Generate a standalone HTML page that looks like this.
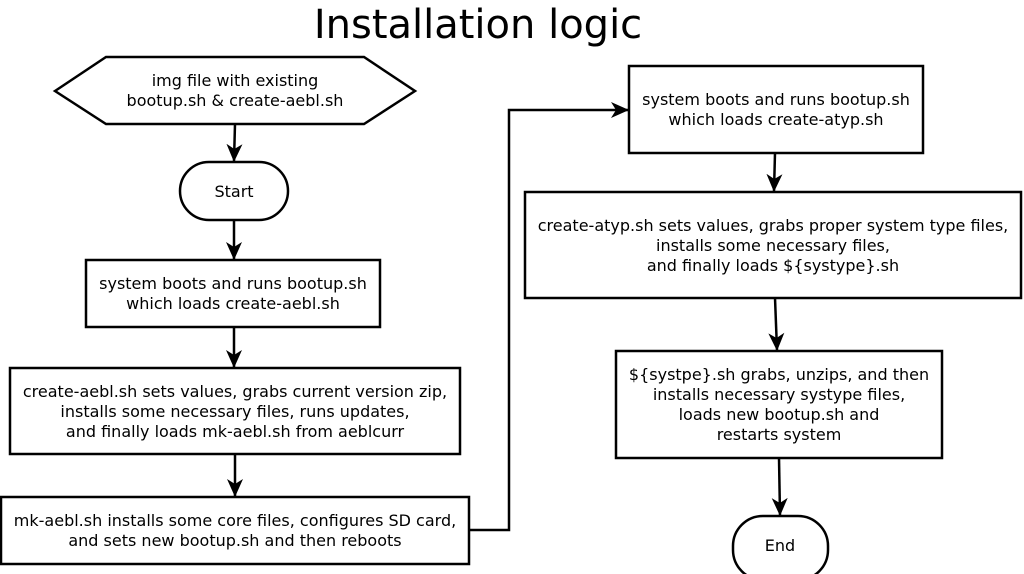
<!DOCTYPE html>
<html><head><meta charset="utf-8"><style>
html,body{margin:0;padding:0;background:#fff;width:1024px;height:574px;overflow:hidden}
svg text{font-family:"DejaVu Sans","Liberation Sans",sans-serif;font-size:16px;fill:#000;text-anchor:middle}
</style></head><body>
<svg width="1024" height="574" viewBox="0 0 1024 574" xmlns="http://www.w3.org/2000/svg">
<defs>
<marker id="b" markerWidth="18" markerHeight="18" refX="17" refY="9" orient="auto" markerUnits="userSpaceOnUse"><path d="M0,1 L18,9 L0,17 L5,9 z" fill="#000"/></marker></defs>
<text x="478" y="38" style="font-size:40px">Installation logic</text>
<g fill="#fff" stroke="#000" stroke-width="2.5">
<polygon points="55,91 106,57 364,57 415,91 364,124 106,124"/>
<rect x="180" y="162" width="108" height="58" rx="29"/>
<rect x="86" y="260" width="294" height="67"/>
<rect x="10" y="368" width="450" height="86"/>
<rect x="1" y="497" width="468" height="67"/>
<rect x="629" y="66" width="294" height="87"/>
<rect x="525" y="192" width="496" height="106"/>
<rect x="616" y="351" width="326" height="107"/>
<rect x="733" y="516" width="95" height="64" rx="30"/>
</g>
<g stroke="#000" stroke-width="2.5" fill="none">
<line x1="235" y1="124" x2="234" y2="161" marker-end="url(#b)"/>
<line x1="234" y1="220" x2="234" y2="259" marker-end="url(#b)"/>
<line x1="234" y1="327" x2="234" y2="367" marker-end="url(#b)"/>
<line x1="235" y1="454" x2="235" y2="496" marker-end="url(#b)"/>
<polyline points="469,530 509,530 509,110 628,110" marker-end="url(#b)"/>
<line x1="775" y1="153" x2="774" y2="191" marker-end="url(#b)"/>
<line x1="775" y1="298" x2="777" y2="350" marker-end="url(#b)"/>
<line x1="779" y1="458" x2="780" y2="515" marker-end="url(#b)"/>
</g>
<text x="235" y="86">img file with existing</text>
<text x="235" y="106">bootup.sh &amp; create-aebl.sh</text>
<text x="234" y="197">Start</text>
<text x="233" y="289">system boots and runs bootup.sh</text>
<text x="233" y="309">which loads create-aebl.sh</text>
<text x="235" y="397">create-aebl.sh sets values, grabs current version zip,</text>
<text x="235" y="417">installs some necessary files, runs updates,</text>
<text x="235" y="437">and finally loads mk-aebl.sh from aeblcurr</text>
<text x="235" y="526">mk-aebl.sh installs some core files, configures SD card,</text>
<text x="235" y="546">and sets new bootup.sh and then reboots</text>
<text x="776" y="105">system boots and runs bootup.sh</text>
<text x="776" y="125">which loads create-atyp.sh</text>
<text x="773" y="231">create-atyp.sh sets values, grabs proper system type files,</text>
<text x="773" y="251">installs some necessary files,</text>
<text x="773" y="271">and finally loads ${systype}.sh</text>
<text x="779" y="380">${systpe}.sh grabs, unzips, and then</text>
<text x="779" y="400">installs necessary systype files,</text>
<text x="779" y="420">loads new bootup.sh and</text>
<text x="779" y="440">restarts system</text>
<text x="780" y="551">End</text>
</svg>
</body></html>
